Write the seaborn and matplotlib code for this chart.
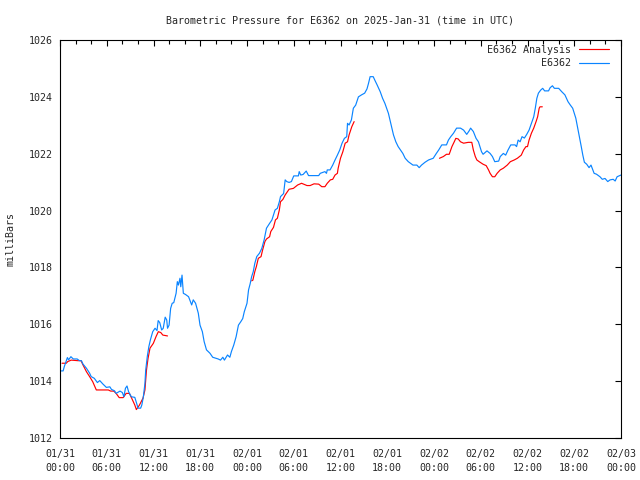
import pandas as pd
import matplotlib
matplotlib.use("Agg")
import matplotlib.pyplot as plt
import matplotlib.dates as mdates
from matplotlib.lines import Line2D
import seaborn as sns

# ============================================================
# Data (hours after 2025-01-31 00:00 UTC, mbar)
# ============================================================
obs_hours = [0.0, 0.4, 0.55, 0.95, 1.1, 1.4, 1.7, 2.2, 2.5, 2.75, 2.95, 3.4, 3.8, 4.0,
             4.4, 4.8, 5.1, 5.5, 5.95, 6.4, 6.6, 7.0, 7.2, 7.7, 8.0, 8.2, 8.4, 8.6,
             8.8, 9.15, 9.6, 9.9, 10.0, 10.35, 10.5, 10.7, 10.9, 11.0, 11.2, 11.4,
             11.6, 11.9, 12.2, 12.45, 12.6, 12.8, 13.05, 13.25, 13.5, 13.7, 13.8,
             14.0, 14.2, 14.4, 14.6, 14.9, 15.06, 15.2, 15.4, 15.5, 15.66, 15.83,
             16.1, 16.5, 16.9, 17.1, 17.4, 17.75, 17.97, 18.27, 18.5, 18.8, 19.25,
             19.6, 20.3, 20.6, 20.9, 21.1, 21.5, 21.8, 22.0, 22.3, 22.6, 22.9, 23.2,
             23.45, 23.65, 24.0, 24.2, 24.4, 24.6, 24.8, 25.0, 25.25, 25.6, 25.9,
             26.2, 26.5, 26.9, 27.2, 27.4, 27.6, 27.9, 28.15, 28.3, 28.7, 28.9, 29.1,
             29.4, 29.7, 30.0, 30.6, 30.7, 30.9, 31.2, 31.6, 31.9, 33.2, 33.4, 33.7,
             34.0, 34.2, 34.3, 34.66, 35.0, 35.3, 35.6, 35.9, 36.2, 36.5, 36.8, 36.9,
             37.1, 37.4, 37.65, 37.95, 38.3, 38.7, 39.1, 39.4, 39.6, 39.8, 40.2, 40.4,
             40.7, 41.1, 41.4, 41.7, 42.15, 42.45, 42.8, 43.1, 43.4, 43.7, 44.0, 44.3,
             44.7, 45.3, 45.8, 46.1, 46.4, 46.85, 47.3, 47.9, 48.3, 48.6, 49.0, 49.6,
             49.85, 50.15, 50.5, 50.9, 51.4, 51.8, 52.2, 52.5, 52.7, 53.05, 53.4,
             53.7, 53.9, 54.1, 54.3, 54.8, 55.2, 55.5, 55.8, 56.3, 56.5, 56.9, 57.2,
             57.5, 57.85, 58.4, 58.6, 58.8, 59.05, 59.3, 59.6, 59.9, 60.2, 60.5, 60.8,
             61.0, 61.2, 61.4, 61.7, 61.95, 62.2, 62.7, 62.9, 63.2, 63.45, 64.0, 64.4,
             64.8, 65.2, 65.5, 65.8, 66.0, 66.2, 66.45, 66.7, 66.9, 67.1, 67.3, 67.6,
             67.9, 68.15, 68.35, 68.55, 68.85, 69.3, 69.6, 69.95, 70.3, 70.6, 71.0,
             71.25, 71.5, 72.0]
obs_mbar = [1014.36, 1014.36, 1014.51, 1014.83, 1014.75, 1014.86, 1014.78, 1014.78,
            1014.72, 1014.72, 1014.6, 1014.45, 1014.28, 1014.16, 1014.1, 1013.95,
            1014.02, 1013.9, 1013.78, 1013.8, 1013.71, 1013.66, 1013.57, 1013.65,
            1013.6, 1013.45, 1013.75, 1013.83, 1013.63, 1013.45, 1013.43, 1013.16,
            1013.05, 1013.05, 1013.16, 1013.45, 1013.92, 1014.39, 1014.86, 1015.21,
            1015.45, 1015.74, 1015.86, 1015.78, 1016.13, 1016.06, 1015.8, 1015.86,
            1016.25, 1016.15, 1015.86, 1015.97, 1016.56, 1016.74, 1016.76, 1017.09,
            1017.5, 1017.38, 1017.62, 1017.32, 1017.73, 1017.09, 1017.05, 1016.97,
            1016.68, 1016.86, 1016.74, 1016.39, 1015.97, 1015.74, 1015.39, 1015.1,
            1014.98, 1014.84, 1014.78, 1014.74, 1014.84, 1014.74, 1014.92, 1014.84,
            1015.04, 1015.27, 1015.56, 1015.97, 1016.09, 1016.2, 1016.44, 1016.74,
            1017.21, 1017.42, 1017.68, 1017.85, 1018.14, 1018.38, 1018.5, 1018.67,
            1018.97, 1019.38, 1019.55, 1019.67, 1019.84, 1020.02, 1020.08, 1020.31,
            1020.49, 1020.6, 1021.08, 1021.02, 1020.99, 1021.02, 1021.22, 1021.22,
            1021.37, 1021.25, 1021.27, 1021.39, 1021.23, 1021.23, 1021.31, 1021.34,
            1021.37, 1021.31, 1021.43, 1021.43, 1021.6, 1021.78, 1021.95, 1022.13,
            1022.37, 1022.54, 1022.6, 1023.07, 1023.01, 1023.19, 1023.6, 1023.71,
            1024.0, 1024.07, 1024.13, 1024.28, 1024.48, 1024.71, 1024.71, 1024.59,
            1024.42, 1024.18, 1023.95, 1023.77, 1023.42, 1023.07, 1022.66, 1022.42,
            1022.25, 1022.13, 1022.01, 1021.84, 1021.72, 1021.6, 1021.6, 1021.51,
            1021.6, 1021.7, 1021.78, 1021.84, 1022.01, 1022.13, 1022.31, 1022.31,
            1022.48, 1022.6, 1022.72, 1022.9, 1022.9, 1022.83, 1022.68, 1022.8,
            1022.9, 1022.78, 1022.54, 1022.42, 1022.25, 1022.07, 1021.98, 1022.1,
            1022.01, 1021.9, 1021.72, 1021.74, 1021.9, 1022.01, 1021.95, 1022.13,
            1022.31, 1022.31, 1022.25, 1022.48, 1022.42, 1022.6, 1022.55, 1022.68,
            1022.83, 1023.07, 1023.3, 1023.6, 1023.95, 1024.13, 1024.24, 1024.3,
            1024.21, 1024.21, 1024.32, 1024.39, 1024.3, 1024.3, 1024.18, 1024.07,
            1023.83, 1023.71, 1023.6, 1023.42, 1023.25, 1022.9, 1022.54, 1022.25,
            1021.95, 1021.7, 1021.63, 1021.51, 1021.6, 1021.46, 1021.31, 1021.28,
            1021.19, 1021.1, 1021.13, 1021.02, 1021.08, 1021.1, 1021.04, 1021.19,
            1021.25]

# analysis: three separate runs
ana1_hours = [0.26, 0.8, 1.0, 1.45, 2.3, 2.7, 2.95, 3.4, 3.8, 4.2, 4.66, 6.2, 6.5,
              6.9, 7.2, 7.6, 8.1, 8.5, 8.9, 9.2, 9.6, 9.8, 10.2, 10.65, 10.9, 11.1,
              11.3, 11.55, 11.98, 12.33, 12.62, 12.93, 13.2, 13.8]
ana1_mbar = [1014.63, 1014.63, 1014.69, 1014.74, 1014.72, 1014.72, 1014.57, 1014.33,
             1014.16, 1013.98, 1013.69, 1013.69, 1013.65, 1013.65, 1013.57, 1013.42,
             1013.42, 1013.57, 1013.57, 1013.4, 1013.16, 1013.0, 1013.16, 1013.4,
             1013.69, 1014.39, 1014.8, 1015.16, 1015.33, 1015.57, 1015.74, 1015.71,
             1015.62, 1015.59]
ana2_hours = [24.6, 24.75, 25.0, 25.2, 25.45, 25.8, 26.0, 26.3, 26.5, 26.9, 27.05,
              27.4, 27.65, 27.9, 28.15, 28.3, 28.6, 28.9, 29.4, 29.95, 30.5, 31.0,
              31.7, 32.1, 32.6, 33.2, 33.6, 34.0, 34.3, 34.7, 35.0, 35.3, 35.6, 35.7,
              36.0, 36.3, 36.6, 36.9, 37.1, 37.45, 37.75]
ana2_mbar = [1017.53, 1017.55, 1017.85, 1018.03, 1018.32, 1018.38, 1018.61, 1018.91,
             1019.0, 1019.08, 1019.26, 1019.41, 1019.67, 1019.73, 1020.02, 1020.31,
             1020.39, 1020.55, 1020.75, 1020.78, 1020.9, 1020.96, 1020.88, 1020.88,
             1020.94, 1020.93, 1020.84, 1020.84, 1020.96, 1021.08, 1021.1, 1021.25,
             1021.31, 1021.49, 1021.84, 1022.07, 1022.37, 1022.42, 1022.66, 1022.95,
             1023.13]
ana3_hours = [48.7, 49.2, 49.6, 49.95, 50.3, 50.6, 50.8, 51.1, 51.4, 51.8, 52.4,
              52.85, 53.05, 53.3, 53.5, 53.8, 54.3, 54.7, 55.0, 55.2, 55.5, 55.8,
              56.1, 56.5, 56.9, 57.4, 57.8, 58.3, 58.7, 59.2, 59.5, 59.8, 60.0, 60.2,
              60.5, 60.8, 61.1, 61.3, 61.5, 61.6, 61.9]
ana3_mbar = [1021.84, 1021.9, 1021.98, 1021.98, 1022.25, 1022.42, 1022.54, 1022.52,
             1022.42, 1022.37, 1022.4, 1022.4, 1022.13, 1021.9, 1021.78, 1021.72,
             1021.63, 1021.58, 1021.43, 1021.31, 1021.19, 1021.19, 1021.31, 1021.43,
             1021.49, 1021.6, 1021.72, 1021.78, 1021.84, 1021.95, 1022.13, 1022.25,
             1022.25, 1022.48, 1022.72, 1022.9, 1023.13, 1023.3, 1023.6, 1023.65,
             1023.65]

start = pd.Timestamp("2025-01-31 00:00")
obs = pd.DataFrame({"time": start + pd.to_timedelta(obs_hours, unit="h"),
                    "mbar": obs_mbar})
ana = pd.concat([
    pd.DataFrame({"time": start + pd.to_timedelta(h, unit="h"), "mbar": p, "run": i})
    for i, (h, p) in enumerate([(ana1_hours, ana1_mbar),
                                (ana2_hours, ana2_mbar),
                                (ana3_hours, ana3_mbar)])
], ignore_index=True)

# ============================================================
# Figure
# ============================================================
sns.set_style("white")
plt.rcParams["font.family"] = ["DejaVu Sans Mono"]
FS = 7.2
red = "#ff0000"
blue = "#0a84ff"
LW = 0.85

fig = plt.figure(figsize=(6.4, 4.8), dpi=100)
ax = fig.add_axes([60 / 640, 1 - 438 / 480, 561 / 640, 398 / 480])

sns.lineplot(data=ana, x="time", y="mbar", units="run", estimator=None,
             color=red, lw=LW, ax=ax)
sns.lineplot(data=obs, x="time", y="mbar", color=blue, lw=LW, ax=ax)

ax.set_xlim(start, start + pd.Timedelta(hours=72))
ax.set_ylim(1012, 1026)
ax.set_yticks(range(1012, 1027, 2))
ax.xaxis.set_major_locator(mdates.HourLocator(byhour=[0, 6, 12, 18]))
ax.xaxis.set_minor_locator(mdates.HourLocator(byhour=range(0, 24, 2)))
ax.xaxis.set_major_formatter(mdates.DateFormatter("%m/%d\n%H:%M"))

ax.tick_params(which="both", direction="in", top=True, right=True,
               labelsize=FS, color="black", width=0.8)
ax.tick_params(which="major", length=4.5)
ax.tick_params(which="minor", length=3)
ax.tick_params(axis="x", pad=8)
ax.tick_params(axis="y", pad=5)
for lbl in ax.get_xticklabels():
    lbl.set_linespacing(1.45)
for s in ax.spines.values():
    s.set_color("black")
    s.set_linewidth(0.8)

ax.set_xlabel("")
ax.set_ylabel("milliBars", fontsize=FS)
ax.yaxis.set_label_coords(-0.08, 0.5)
ax.set_title("Barometric Pressure for E6362 on 2025-Jan-31 (time in UTC)",
             fontsize=FS, pad=12)

handles = [Line2D([], [], color=red, lw=LW), Line2D([], [], color=blue, lw=LW)]
ax.legend(handles, ["E6362 Analysis", "E6362"], loc="upper right",
          bbox_to_anchor=(0.992, 1.008), frameon=False, markerfirst=False,
          fontsize=FS, handlelength=3.0, handletextpad=0.8, labelspacing=0.35,
          borderpad=0.3)

fig.savefig("out.png", dpi=100)
